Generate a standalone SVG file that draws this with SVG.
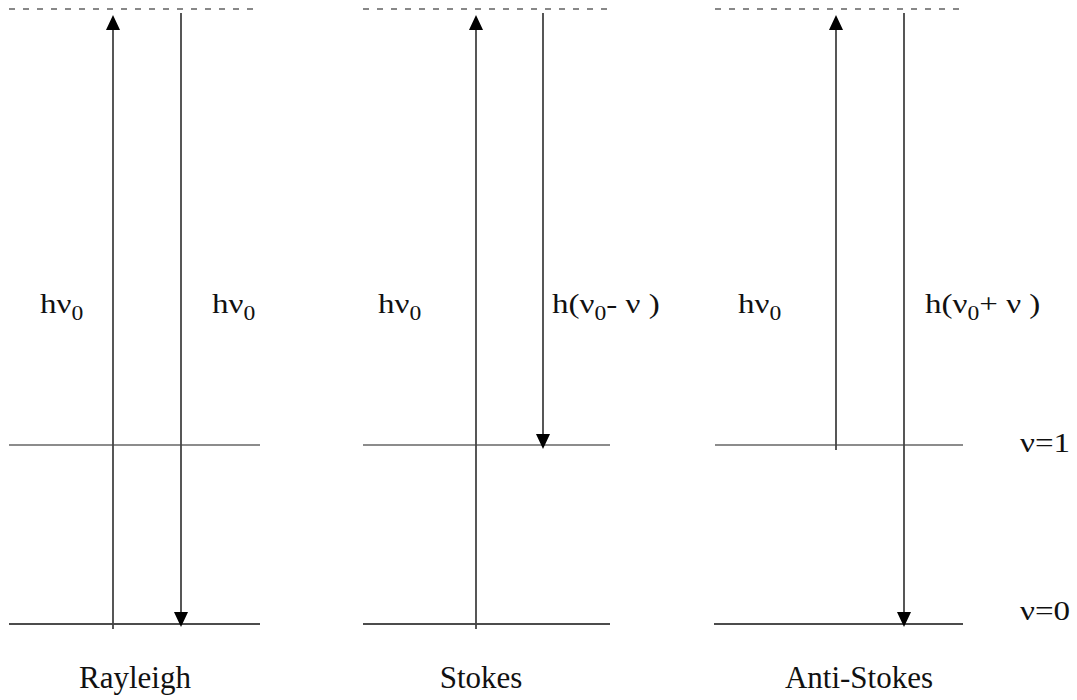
<svg xmlns="http://www.w3.org/2000/svg" width="1077" height="700" viewBox="0 0 1077 700">
<defs>
<marker id="ah" markerUnits="userSpaceOnUse" markerWidth="16" markerHeight="14" refX="0" refY="7" orient="auto">
<path d="M0,0 L15,7 L0,14 z" fill="#000"/>
</marker>
<style>
.dash{stroke:#888;stroke-width:2;stroke-dasharray:6 8;fill:none}
.v1{stroke:#666;stroke-width:1.6}
.v0{stroke:#111;stroke-width:1.6}
.arr{stroke:#444;stroke-width:1.8;fill:none;marker-end:url(#ah)}
.lbl{font-family:"Liberation Serif","Times New Roman",serif;font-size:28px;fill:#111}
.sub{font-size:20px}
.cap{font-family:"Liberation Serif","Times New Roman",serif;font-size:31px;fill:#111}
</style>
</defs>

<g id="levels">
<line class="dash" x1="9" y1="9" x2="260" y2="9"/>
<line class="dash" x1="363" y1="9" x2="608" y2="9"/>
<line class="dash" x1="715" y1="9" x2="963" y2="9"/>
<line class="v1" x1="9" y1="445" x2="260" y2="445"/>
<line class="v1" x1="363" y1="445" x2="610" y2="445"/>
<line class="v1" x1="715" y1="445" x2="963" y2="445"/>
<line class="v0" x1="9" y1="624" x2="260" y2="624"/>
<line class="v0" x1="363" y1="624" x2="610" y2="624"/>
<line class="v0" x1="714" y1="624" x2="963" y2="624"/>
</g>

<g id="connectors">
<line class="arr" x1="113" y1="629" x2="113" y2="30"/>
<line class="arr" x1="181" y1="13" x2="181" y2="612"/>
<line class="arr" x1="476" y1="629" x2="476" y2="30"/>
<line class="arr" x1="543" y1="13" x2="543" y2="434"/>
<line class="arr" x1="836" y1="450" x2="836" y2="30"/>
<line class="arr" x1="904" y1="13" x2="904" y2="612"/>
</g>

<g id="rayleigh">
<text class="lbl" transform="translate(40,313) scale(1.18,1)">hν<tspan class="sub" dy="7">0</tspan></text>
<text class="lbl" transform="translate(212,313) scale(1.18,1)">hν<tspan class="sub" dy="7">0</tspan></text>
<text class="cap" x="135" y="688" text-anchor="middle">Rayleigh</text>
</g>

<g id="stokes">
<text class="lbl" transform="translate(378,313) scale(1.18,1)">hν<tspan class="sub" dy="7">0</tspan></text>
<text class="lbl" transform="translate(552,313) scale(1.18,1)">h(ν<tspan class="sub" dy="7">0</tspan><tspan dy="-7">- ν )</tspan></text>
<text class="cap" x="481" y="688" text-anchor="middle">Stokes</text>
</g>

<g id="antistokes">
<text class="lbl" transform="translate(738,313) scale(1.18,1)">hν<tspan class="sub" dy="7">0</tspan></text>
<text class="lbl" transform="translate(925,313) scale(1.18,1)">h(ν<tspan class="sub" dy="7">0</tspan><tspan dy="-7">+ ν  )</tspan></text>
<text class="cap" x="859" y="688" text-anchor="middle">Anti-Stokes</text>
</g>

<g id="labels">
<text class="lbl" transform="translate(1020,452) scale(1.18,1)">ν=1</text>
<text class="lbl" transform="translate(1020,620) scale(1.18,1)">ν=0</text>
</g>
</svg>
